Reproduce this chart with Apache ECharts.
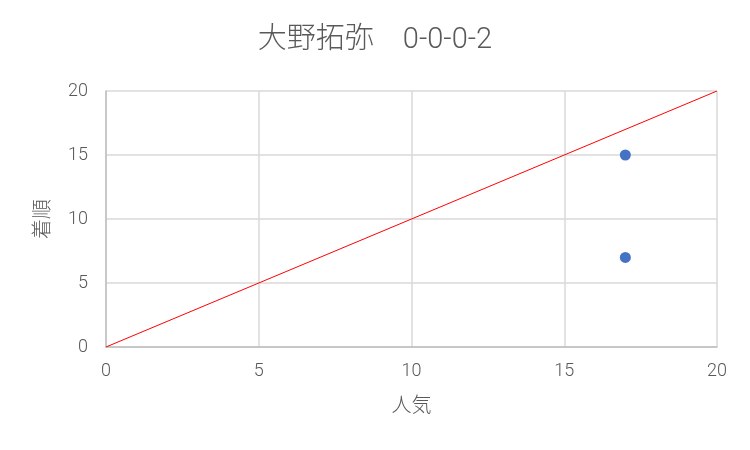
<!DOCTYPE html>
<html><head><meta charset="utf-8">
<script src="https://cdn.jsdelivr.net/npm/echarts@6/dist/echarts.min.js"></script>
<style>html,body{margin:0;padding:0;background:#fff}#c{width:750px;height:450px}</style>
</head><body><div id="c"></div>
<script>
const titleText = "大野拓弥　0-0-0-2";
const xName = "人気";
const yName = "着順";
const popularity = [17, 17];
const finish = [15, 7];
const refLineX = [0, 20];
const refLineY = [0, 20];
const font = 'Roboto, "Noto Sans CJK JP", sans-serif';
const chart = echarts.init(document.getElementById('c'), null, {renderer: 'canvas'});
chart.setOption({
  animation: false,
  backgroundColor: '#fff',
  title: {text: titleText, left: 'center', top: 21,
    textStyle: {fontFamily: font, fontSize: 29, fontWeight: 300, color: '#595959'}},
  grid: {left: 106, top: 91, width: 611, height: 256},
  xAxis: {type: 'value', min: 0, max: 20, interval: 5,
    name: xName, nameLocation: 'middle', nameGap: 50,
    nameTextStyle: {fontFamily: font, fontSize: 20, fontWeight: 300, color: '#595959'},
    axisLine: {show: true, lineStyle: {color: '#bfbfbf', width: 1.5}},
    axisTick: {show: false},
    axisLabel: {fontFamily: font, fontSize: 18, fontWeight: 300, color: '#595959', margin: 16},
    splitLine: {show: true, lineStyle: {color: '#d9d9d9', width: 1.5}}},
  yAxis: {type: 'value', min: 0, max: 20, interval: 5,
    name: yName, nameLocation: 'middle', nameGap: 52, nameRotate: 90,
    nameTextStyle: {fontFamily: font, fontSize: 20, fontWeight: 300, color: '#595959'},
    axisLine: {show: true, lineStyle: {color: '#bfbfbf', width: 1.5}},
    axisTick: {show: false},
    axisLabel: {fontFamily: font, fontSize: 18, fontWeight: 300, color: '#595959', margin: 18},
    splitLine: {show: true, lineStyle: {color: '#d9d9d9', width: 1.5}}},
  series: [
    {type: 'line', data: refLineX.map((x, i) => [x, refLineY[i]]), showSymbol: false,
      lineStyle: {color: '#ff0000', width: 1}, silent: true},
    {type: 'scatter', data: popularity.map((x, i) => [x, finish[i]]),
      symbolSize: 11, itemStyle: {color: '#4472c4', opacity: 1}}
  ]
});
</script></body></html>
